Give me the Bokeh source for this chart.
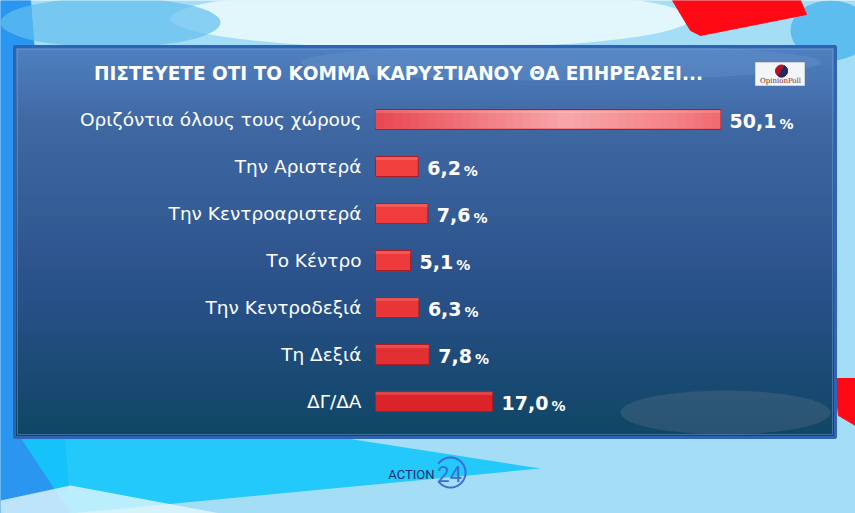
import math
from bokeh.plotting import figure
from bokeh.models import Range1d
from bokeh.core.properties import value
from bokeh.embed import file_html
from bokeh.resources import INLINE

# ---------------- data ----------------
title = "ΠΙΣΤΕΥΕΤΕ ΟΤΙ ΤΟ ΚΟΜΜΑ ΚΑΡΥΣΤΙΑΝΟΥ ΘΑ ΕΠΗΡΕΑΣΕΙ..."
categories = [
    "Οριζόντια όλους τους χώρους",
    "Την Αριστερά",
    "Την Κεντροαριστερά",
    "Το Κέντρο",
    "Την Κεντροδεξιά",
    "Τη Δεξιά",
    "ΔΓ/ΔΑ",
]
values = [50.1, 6.2, 7.6, 5.1, 6.3, 7.8, 17.0]
bar_colors = ["#ec5058", "#f2403f", "#f03c3c", "#ee3a3b", "#e83538", "#e22f33", "#dc2327"]

# ---------------- layout helpers (reference-pixel -> data) ----------------
RX0 = 375.0               # pixel of 0 %
PPU = 345.0 / 50.1        # pixels per percent
RY0 = 119.0               # pixel centre of first row
ROW = 47.0                # pixels per row


def X(px):
    return (px - RX0) / PPU


def Y(py):
    return (py - RY0) / ROW


def hexmix(c1, c2, t):
    a = [int(c1[i:i + 2], 16) for i in (1, 3, 5)]
    b = [int(c2[i:i + 2], 16) for i in (1, 3, 5)]
    return "#%02x%02x%02x" % tuple(int(round(a[k] + (b[k] - a[k]) * t)) for k in range(3))


def grad(stops, t):
    for i in range(len(stops) - 1):
        t0, c0 = stops[i]
        t1, c1 = stops[i + 1]
        if t <= t1:
            return hexmix(c0, c1, (t - t0) / (t1 - t0) if t1 > t0 else 0)
    return stops[-1][1]


W, H = 855, 513
p = figure(width=W, height=H, x_range=Range1d(X(0), X(W)), y_range=Range1d(Y(H), Y(0)),
           output_backend="svg", toolbar_location=None, min_border=0,
           x_axis_location=None, y_axis_location=None)
p.grid.visible = False
p.outline_line_color = None
p.background_fill_color = "#a4def6"
p.border_fill_color = "#a4def6"

# ---------------- TV background ----------------
p.patch([X(0), X(30), X(70), X(0)], [Y(0), Y(0), Y(513), Y(513)], color="#2a96f0")
p.ellipse(x=[X(430)], y=[Y(18)], width=[520 / PPU], height=[60 / ROW], color="#e8f9fd",
          alpha=0.9, line_color=None)
p.ellipse(x=[X(110)], y=[Y(22)], width=[220 / PPU], height=[50 / ROW], color="#63bff0",
          alpha=0.7, line_color=None)
p.ellipse(x=[X(830)], y=[Y(30)], width=[80 / PPU], height=[60 / ROW], color="#4cb4ee",
          alpha=0.8, line_color=None)
p.patch([X(20), X(340), X(540), X(70)], [Y(437), Y(437), Y(468), Y(513)], color="#14c6fb",
        alpha=0.9, line_color=None)
p.patch([X(70), X(220), X(0), X(0)], [Y(485), Y(513), Y(513), Y(500)], color="#e2f7fd",
        alpha=0.8, line_color=None)
# red shapes
p.patch([X(672), X(800), X(806), X(700), X(690)], [Y(0), Y(0), Y(14), Y(35), Y(30)], color="#ff0a14")
p.patch([X(834), X(855), X(855), X(838)], [Y(378), Y(378), Y(425), Y(415)], color="#ff0a14")

# ---------------- panel ----------------
PL, PR, PT, PB = 14, 835, 46, 437
N = 60
stops = [(0.0, "#5080c0"), (0.2, "#3f68a3"), (0.6, "#2b528b"), (0.85, "#1a4a74"), (1.0, "#0f4664")]
lefts, rights, tops, bottoms, cols = [], [], [], [], []
for k in range(N):
    y0 = PT + (PB - PT) * k / N
    y1 = min(PB, PT + (PB - PT) * (k + 1) / N + 0.8)
    lefts.append(X(PL)); rights.append(X(PR)); tops.append(Y(y0)); bottoms.append(Y(y1))
    cols.append(grad(stops, (k + 0.5) / N))
p.quad(left=lefts, right=rights, top=tops, bottom=bottoms, fill_color=cols, line_color=None)
# soft light / shade areas
p.ellipse(x=[X(560)], y=[Y(62)], width=[520 / PPU], height=[36 / ROW], color="#6d9bd4",
          alpha=0.3, line_color=None)
p.ellipse(x=[X(725)], y=[Y(412)], width=[210 / PPU], height=[44 / ROW], color="#66788a",
          alpha=0.3, line_color=None)
# border
p.quad(left=[X(PL)], right=[X(PR)], top=[Y(PT)], bottom=[Y(PB)], fill_color=None,
       line_color="#2e64b4", line_width=3)
p.quad(left=[X(PL + 3)], right=[X(PR - 3)], top=[Y(PT + 3)], bottom=[Y(PB - 3)], fill_color=None,
       line_color="#6f9bd6", line_width=1, line_alpha=0.5)

# ---------------- title ----------------
p.text(x=[X(398)], y=[Y(73)], text=[title], text_font=value("DejaVu Sans"), text_font_style="bold",
       text_font_size="18.5px", text_color="white", text_align="center", text_baseline="middle")

# ---------------- bars ----------------
idx = list(range(len(categories)))
bar_h = 20 / ROW
p.hbar(y=idx, left=0, right=values, height=bar_h, fill_color=bar_colors, line_color="#a81e22",
       line_width=1)
# gradient sheen on first bar
NS = 40
g_stops = [(0.0, "#e8464f"), (0.55, "#f7a7aa"), (0.85, "#f48488"), (1.0, "#ee6a70")]
sl, sr, sc = [], [], []
for k in range(NS):
    sl.append(values[0] * k / NS)
    sr.append(min(values[0], values[0] * (k + 1) / NS + 0.1))
    sc.append(grad(g_stops, (k + 0.5) / NS))
p.hbar(y=[idx[0]] * NS, left=sl, right=sr, height=bar_h - 2 / ROW, fill_color=sc, line_color=None)
# top highlight on bars
p.hbar(y=[i - (bar_h / 2) + 2 / ROW for i in idx], left=0, right=values, height=3 / ROW,
       fill_color="white", fill_alpha=0.15, line_color=None)

# ---------------- labels ----------------
p.text(x=[X(361)] * len(idx), y=idx, text=categories, text_font=value("DejaVu Sans"),
       text_font_size="18.5px", text_color="white", text_align="right", text_baseline="middle")

num_txt = [("%.1f" % v).replace(".", ",") for v in values]
CW = {c: 0.696 for c in "0123456789"}
CW[","] = 0.380
NUM_FS = 19
num_w = [sum(CW.get(c, 0.6) for c in s) * NUM_FS for s in num_txt]
for i in idx:
    p.text(x=[values[i]], y=[i + 1 / ROW], text=[num_txt[i]], x_offset=9, text_font=value("DejaVu Sans"),
           text_font_style="bold", text_font_size="%dpx" % NUM_FS, text_color="white",
           text_align="left", text_baseline="middle")
    p.text(x=[values[i]], y=[i + 4 / ROW], text=["%"], x_offset=9 + num_w[i] + 3,
           text_font=value("DejaVu Sans"), text_font_style="bold", text_font_size="14px",
           text_color="white", text_align="left", text_baseline="middle")

# ---------------- OpinionPoll logo ----------------
p.quad(left=[X(755)], right=[X(804)], top=[Y(62)], bottom=[Y(85)], fill_color="#f4f5f7",
       line_color="#d0d4da", line_width=1)
cx, cy, r = 781.0, 70.5, 6.0
circ = [(cx + r * math.cos(t / 40 * 2 * math.pi), cy + r * math.sin(t / 40 * 2 * math.pi)) for t in range(41)]
p.patch([X(a) for a, b in circ], [Y(b) for a, b in circ], color="#b4121f")
half = [(cx + r * math.cos(math.radians(a)), cy + r * math.sin(math.radians(a))) for a in range(-60, 121, 6)]
p.patch([X(a) for a, b in half], [Y(b) for a, b in half], color="#202a5e")
p.text(x=[X(780)], y=[Y(80)], text=["OpinionPoll"], text_font=value("DejaVu Serif"),
       text_font_size="7px", text_color="#7a2a2a", text_align="center", text_baseline="middle")

# ---------------- ACTION 24 logo ----------------
p.text(x=[X(434)], y=[Y(474)], text=["ACTION"], text_font=value("Roboto"), text_font_size="13px",
       text_color="#1e2f6a", text_align="right", text_baseline="middle")
p.text(x=[X(449)], y=[Y(473)], text=["24"], text_font=value("Roboto"), text_font_size="22px",
       text_color="#3a6fd4", text_align="center", text_baseline="middle")
acx, acy, ar = 450.0, 472.0, 15.0
arc = [(acx + ar * math.cos(math.radians(a)), acy + ar * math.sin(math.radians(a))) for a in range(215, 506, 5)]
p.line([X(a) for a, b in arc], [Y(b) for a, b in arc], line_color="#3a6fd4", line_width=2)

open("out.html", "w").write(file_html(p, INLINE))
